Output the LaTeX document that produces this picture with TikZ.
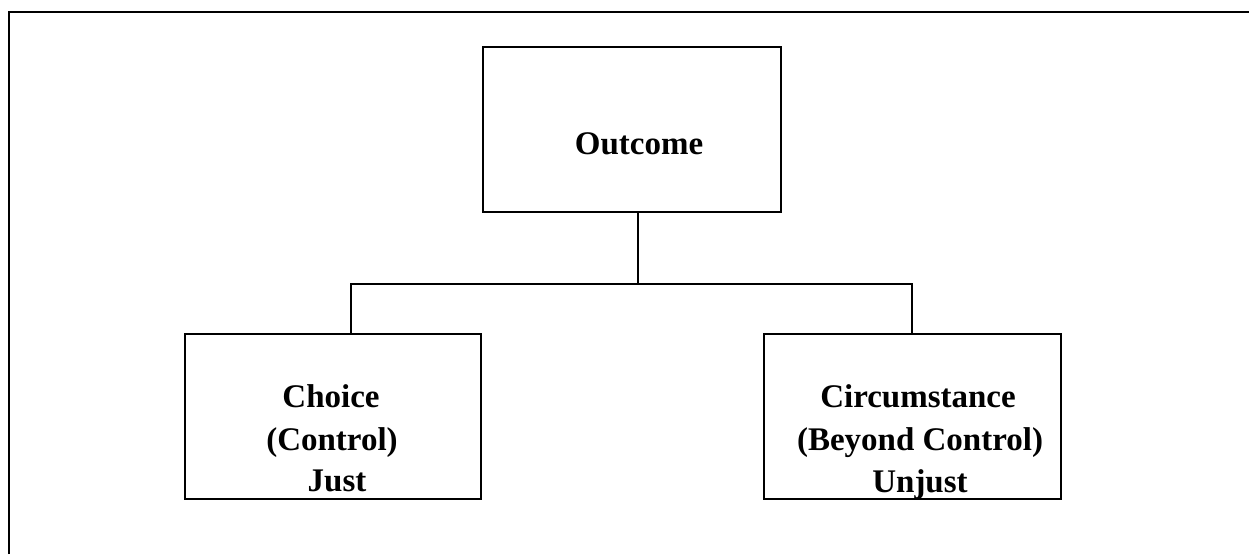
\documentclass[tikz,border=0pt]{standalone}
\usepackage{fontspec}
\setmainfont{Liberation Serif}
\begin{document}
\begin{tikzpicture}[x=1pt,y=-1pt,
  box/.style={draw, line width=2pt, inner sep=0pt, outer sep=0pt},
  lbl/.style={font=\fontsize{33}{40}\selectfont\bfseries, anchor=base, inner sep=0pt},
  link/.style={draw, line width=1.7pt},
  frame/.style={draw, line width=2pt}]
\useasboundingbox (0,0) rectangle (1249,554);
\coordinate (fb) at (8.5,554);
\coordinate (ftl) at (8.5,12);
\coordinate (fr) at (1249,12);
\draw[frame] (fb) -- (ftl) -- (fr);
% boxes
\node[box, minimum width=298pt, minimum height=165pt] (outcome) at (632,129.5) {};
\node[box, minimum width=296pt, minimum height=165pt] (choice) at (333,416.5) {};
\node[box, minimum width=297pt, minimum height=165pt] (circ) at (912.5,416.5) {};
% texts
\node[lbl] (tOut) at (639,154) {Outcome};
\node[lbl] (tCh1) at (331,407) {Choice};
\node[lbl] (tCh2) at (332,450) {(Control)};
\node[lbl] (tCh3) at (337,491) {Just};
\node[lbl] (tCi1) at (918,407) {Circumstance};
\node[lbl] (tCi2) at (920,450) {(Beyond Control)};
\node[lbl] (tCi3) at (920,492) {Unjust};
% connectors
\coordinate (busL) at (351,284);
\coordinate (busR) at (912,284);
\draw[link] ([xshift=6pt]outcome.south) -- ([xshift=6pt]outcome.south |- busL);
\draw[link] (choice.north -| busL) -- (busL) -- (busR) -- (circ.north -| busR);
\end{tikzpicture}
\end{document}
